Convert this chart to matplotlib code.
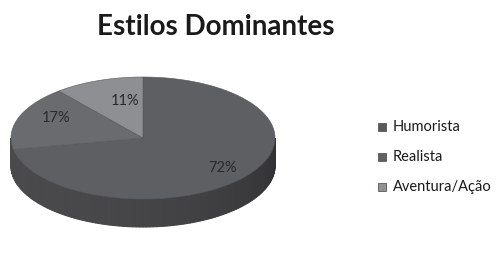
import numpy as np
import matplotlib.pyplot as plt
from matplotlib.patches import Polygon

labels = ['Humorista', 'Realista', 'Aventura/Ação']
values = [72, 17, 11]
top_colors = ['#5e5f63', '#6a6b6f', '#8e8f93']
legend_colors = ['#58595d', '#606165', '#909195']

fig = plt.figure(figsize=(5.04, 2.65), dpi=100)
ax = fig.add_axes([0, 0, 1, 1])
ax.set_xlim(0, 504)
ax.set_ylim(265, 0)
ax.axis('off')

cx, cy = 143, 138   # centre of top ellipse (pixels)
rx, ry = 132, 61
depth = 28

def pt(a, dy=0):
    return cx + rx*np.cos(a), cy - ry*np.sin(a) + dy

# side of the cylinder (front half), drawn in strips for a soft gradient
n = 120
angs = np.linspace(np.pi, 2*np.pi, n+1)
for i in range(n):
    a0, a1 = angs[i], angs[i+1]
    t = (0.5*(a0 + a1) - np.pi) / np.pi  # 0 left .. 1 right
    shade = 0.29 - 0.10*t + 0.03*np.sin(np.pi*t)
    col = (shade, shade, shade + 0.01)
    x0, y0 = pt(a0)
    x1, y1 = pt(a1)
    poly = Polygon([(x0, y0), (x1, y1), (x1, y1+depth), (x0, y0+depth)],
                   closed=True, facecolor=col, edgecolor=col, linewidth=0.8)
    ax.add_patch(poly)

# top face wedges, clockwise from 12 o'clock
start = np.pi/2
fracs = np.array(values) / sum(values)
for frac, col in zip(fracs, top_colors):
    end = start - frac*2*np.pi
    a = np.linspace(start, end, 200)
    xs = cx + rx*np.cos(a)
    ys = cy - ry*np.sin(a)
    verts = [(cx, cy)] + list(zip(xs, ys))
    ax.add_patch(Polygon(verts, closed=True, facecolor=col,
                         edgecolor='#55565a', linewidth=0.4))
    start = end

# percentage labels
label_pos = [(223, 168), (56, 118), (125, 101)]
for v, (x, y) in zip(values, label_pos):
    ax.text(x, y, f'{v}%', ha='center', va='center', fontsize=10.5,
            color='#2a2a2a', family='Lato')

ax.text(216, 27, 'Estilos Dominantes', ha='center', va='center',
        fontsize=20, fontweight='bold', color='#1a1a1a', family='Lato')

# legend
for i, (lab, col) in enumerate(zip(labels, legend_colors)):
    y = 127 + i*30
    ax.add_patch(Polygon([(378, y-4), (386, y-4), (386, y+4), (378, y+4)],
                         closed=True, facecolor=col, edgecolor='#444444',
                         linewidth=0.5))
    ax.text(393, y, lab, ha='left', va='center', fontsize=10.5,
            color='#1a1a1a', family='Lato')

fig.savefig('out.png', dpi=100)
